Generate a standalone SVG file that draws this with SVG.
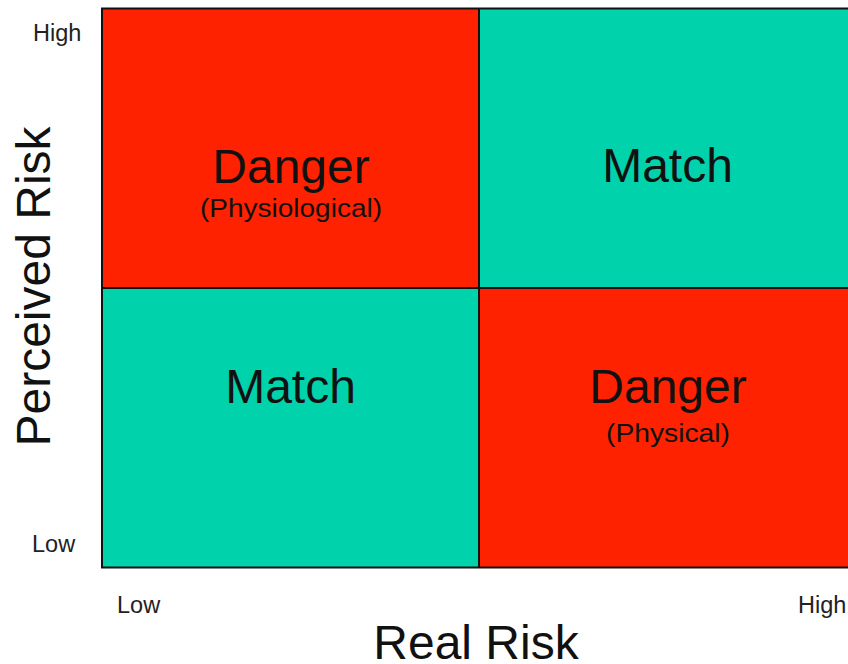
<svg xmlns="http://www.w3.org/2000/svg" width="848" height="664" viewBox="0 0 848 664">
  <style>
    text { font-family: "Liberation Sans", Arial, sans-serif; fill: #111; }
    .tick { font-size: 23.5px; fill: #222; }
    .axis { font-size: 48px; fill: #111; }
    .big { font-size: 48px; text-anchor: middle; }
    .small { font-size: 25px; text-anchor: middle; }
    .danger { fill: #ff2200; }
    .match { fill: #00d2ac; }
    .grid { fill: none; stroke: #111; stroke-width: 2; }
  </style>
  <rect width="848" height="664" fill="#ffffff"/>

  <!-- quadrants -->
  <g id="q-top-left">
    <rect class="danger" x="102" y="8.5" width="377" height="279.5"/>
    <text class="big" x="291" y="183">Danger</text>
    <text class="small" x="291" y="217" textLength="182" lengthAdjust="spacingAndGlyphs">(Physiological)</text>
  </g>
  <g id="q-top-right">
    <rect class="match" x="479" y="8.5" width="380" height="279.5"/>
    <text class="big" x="667.5" y="182">Match</text>
  </g>
  <g id="q-bottom-left">
    <rect class="match" x="102" y="288" width="377" height="279.5"/>
    <text class="big" x="290.5" y="403">Match</text>
  </g>
  <g id="q-bottom-right">
    <rect class="danger" x="479" y="288" width="380" height="279.5"/>
    <text class="big" x="668" y="403">Danger</text>
    <text class="small" x="668" y="442" textLength="124" lengthAdjust="spacingAndGlyphs">(Physical)</text>
  </g>

  <!-- grid lines -->
  <g id="connectors">
    <path class="grid" d="M860 8.5 H102 V567.5 H860"/>
    <path class="grid" d="M479 8.5 V567.5 M102 288 H860"/>
  </g>

  <!-- axis labels -->
  <g id="y-axis">
    <text class="tick" x="33" y="41">High</text>
    <text class="tick" x="32" y="552">Low</text>
    <text class="axis" x="0" y="0" text-anchor="middle" transform="translate(50 286.5) rotate(-90)">Perceived Risk</text>
  </g>
  <g id="x-axis">
    <text class="tick" x="117" y="613">Low</text>
    <text class="tick" x="798" y="613">High</text>
    <text class="axis" x="476" y="659" text-anchor="middle">Real Risk</text>
  </g>
</svg>
